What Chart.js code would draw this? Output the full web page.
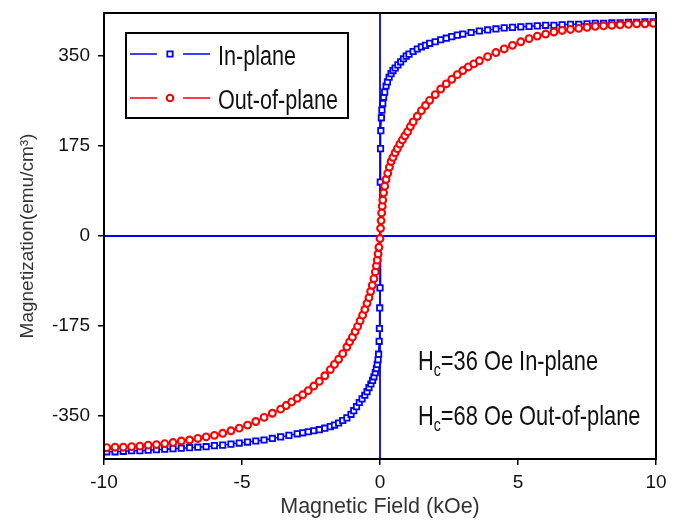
<!DOCTYPE html>
<html><head><meta charset="utf-8">
<script src="https://cdn.jsdelivr.net/npm/chart.js@4.4.0/dist/chart.umd.min.js"></script>
<style>html,body{margin:0;padding:0;background:#fff}#wrap{width:674px;height:524px;position:relative}</style>
</head><body><div id="wrap"><canvas id="c"></canvas></div>
<script>
// ---- data (field in kOe, magnetization in emu/cm^3) ----
const inPlaneField = [-9.9,-9.6,-9.3,-9.0,-8.7,-8.4,-8.1,-7.8,-7.5,-7.2,-6.9,-6.6,-6.3,-6.0,-5.7,-5.4,-5.1,-4.8,-4.5,-4.2,-3.9,-3.6,-3.3,-3.0,-2.8,-2.6,-2.4,-2.2,-2.0,-1.8,-1.65,-1.5,-1.35,-1.2,-1.05,-0.95,-0.85,-0.75,-0.65,-0.55,-0.47,-0.4,-0.33,-0.27,-0.22,-0.17,-0.13,-0.1,-0.07,-0.05,-0.03,-0.02,-0.01,0,
  0.01,0.02,0.03,0.05,0.07,0.1,0.13,0.17,0.22,0.27,0.33,0.4,0.47,0.55,0.65,0.75,0.85,0.95,1.05,1.2,1.35,1.5,1.65,1.8,2.0,2.2,2.4,2.6,2.8,3.0,3.3,3.6,3.9,4.2,4.5,4.8,5.1,5.4,5.7,6.0,6.3,6.6,6.9,7.2,7.5,7.8,8.1,8.4,8.7,9.0,9.3,9.6,9.9];
const inPlaneM = [-420,-420,-419,-418,-418,-417,-416,-415,-414,-413,-412,-411,-410,-408,-407,-405,-403,-401,-399,-397,-394,-391,-388,-385,-383,-381,-379,-377,-374,-371,-368,-364,-359,-354,-347,-340,-332,-324,-317,-310,-303,-295,-288,-281,-274,-266,-258,-250,-241,-230,-205,-180,-140,-101,
  105,170,205,230,245,258,270,280,292,300,309,316,322,327,333,339,345,350,354,359,364,368,371,375,378,382,385,388,391,393,396,399,401,403,405,406,407,408,409,410,410,411,412,412,413,414,414,415,415,416,416,417,417];
const outPlaneField = [-9.9,-9.6,-9.3,-9.0,-8.7,-8.4,-8.1,-7.8,-7.5,-7.2,-6.9,-6.6,-6.3,-6.0,-5.7,-5.4,-5.1,-4.8,-4.5,-4.2,-3.9,-3.6,-3.4,-3.2,-3.0,-2.8,-2.6,-2.4,-2.2,-2.0,-1.8,-1.65,-1.5,-1.35,-1.2,-1.1,-1.0,-0.9,-0.81,-0.72,-0.63,-0.55,-0.47,-0.4,-0.34,-0.28,-0.22,-0.17,-0.13,-0.1,-0.07,-0.04,0,
  0.02,0.04,0.06,0.08,0.1,0.13,0.17,0.22,0.28,0.34,0.4,0.47,0.55,0.63,0.72,0.81,0.9,1.0,1.1,1.2,1.35,1.5,1.65,1.8,2.0,2.2,2.4,2.6,2.8,3.0,3.2,3.4,3.6,3.9,4.2,4.5,4.8,5.1,5.4,5.7,6.0,6.3,6.6,6.9,7.2,7.5,7.8,8.1,8.4,8.7,9.0,9.3,9.6,9.9];
const outPlaneM = [-412,-411,-411,-410,-409,-407,-406,-404,-402,-399,-397,-394,-391,-388,-384,-379,-374,-368,-361,-353,-345,-337,-330,-323,-316,-309,-301,-292,-283,-272,-260,-250,-240,-229,-216,-206,-197,-186,-176,-165,-154,-143,-131,-120,-108,-96,-83,-70,-58,-47,-35,-22,-5,
  15,30,45,58,70,84,97,110,122,134,145,153,162,170,179,187,195,203,213,222,233,244,254,264,275,286,296,305,314,322,329,335,341,349,357,364,371,378,384,389,393,397,400,402,404,406,408,409,410,411,412,413,413,414];
const xTicks = [-10,-5,0,5,10];
const yTicks = [-350,-175,0,175,350];
const seriesNames = ['In-plane','Out-of-plane'];
const noteValues = ['36','68'];
const noteLabels = ['In-plane','Out-of-plane'];
const xTitle = 'Magnetic Field (kOe)';
const yTitle = 'Magnetization(emu/cm\u00B3)';

const BLUE = '#0000ff', RED = '#ff0000';
const FONT = '"Liberation Sans",Arial,sans-serif';

function pts(xs, ys){ return xs.map((x,i)=>({x:x,y:ys[i]})); }

function drawMarker(ctx, style, x, y, color){
  ctx.save();
  ctx.strokeStyle = color; ctx.fillStyle = '#fff';
  ctx.beginPath();
  if (style === 'rect') { ctx.lineWidth = 1.8; ctx.rect(x-2.7, y-2.7, 5.4, 5.4); }
  else { ctx.lineWidth = 2.1; ctx.arc(x, y, 3.3, 0, Math.PI*2); }
  ctx.fill(); ctx.stroke();
  ctx.restore();
}

const overlay = {
  id: 'overlay',
  beforeDatasetsDraw(chart){
    const {ctx, chartArea:a, scales:{x, y}} = chart;
    ctx.save();
    ctx.strokeStyle = BLUE; ctx.lineWidth = 1.8;
    const x0 = x.getPixelForValue(0), y0 = y.getPixelForValue(0);
    ctx.beginPath();
    ctx.moveTo(a.left, y0); ctx.lineTo(a.right, y0);
    ctx.moveTo(x0, a.top); ctx.lineTo(x0, a.bottom);
    ctx.stroke();
    ctx.restore();
  },
  afterDatasetsDraw(chart){
    const {ctx, chartArea:a} = chart;
    ctx.save();
    ctx.strokeStyle = '#000'; ctx.lineWidth = 2;
    ctx.strokeRect(a.left, a.top, a.right - a.left, a.bottom - a.top);
    const lx = a.left + 22, ly = a.top + 20;
    ctx.fillStyle = '#fff';
    ctx.fillRect(lx, ly, 222, 85);
    ctx.strokeRect(lx, ly, 222, 85);
    const rows = [{c:BLUE, s:'rect', y: ly + 21}, {c:RED, s:'circle', y: ly + 65}];
    rows.forEach((r, i) => {
      ctx.strokeStyle = r.c; ctx.lineWidth = 1.5;
      ctx.beginPath();
      ctx.moveTo(lx + 4, r.y); ctx.lineTo(lx + 31, r.y);
      ctx.moveTo(lx + 57, r.y); ctx.lineTo(lx + 84, r.y);
      ctx.stroke();
      drawMarker(ctx, r.s, lx + 44, r.y, r.c);
      ctx.save();
      ctx.translate(lx + 92, r.y + 11);
      ctx.scale(0.8, 1);
      ctx.fillStyle = '#111';
      ctx.font = '27px ' + FONT;
      ctx.textBaseline = 'alphabetic'; ctx.textAlign = 'left';
      ctx.fillText(seriesNames[i], 0, 0);
      ctx.restore();
    });
    const nx = a.left + 314;
    [a.top + 357, a.top + 412].forEach((by, i) => {
      ctx.save();
      ctx.translate(nx, by);
      ctx.scale(0.78, 1);
      ctx.fillStyle = '#111';
      ctx.textBaseline = 'alphabetic'; ctx.textAlign = 'left';
      ctx.font = '28px ' + FONT;
      ctx.fillText('H', 0, 0);
      let w = ctx.measureText('H').width;
      ctx.font = '18px ' + FONT;
      ctx.fillText('c', w, 6);
      w += ctx.measureText('c').width;
      ctx.font = '28px ' + FONT;
      ctx.fillText('=' + noteValues[i] + ' Oe ' + noteLabels[i], w, 0);
      ctx.restore();
    });
    ctx.restore();
  }
};

const axisGrid = {display:true, drawOnChartArea:false, drawTicks:true, tickLength:6, color:'#000', lineWidth:1.5};

new Chart(document.getElementById('c'), {
  type: 'scatter',
  data: {
    datasets: [
      {label: seriesNames[0], data: pts(inPlaneField, inPlaneM), showLine: true, borderColor: BLUE, borderWidth: 1.5,
       pointStyle: 'rect', pointRadius: 3.8, pointBorderWidth: 1.8, pointBackgroundColor: '#fff', pointBorderColor: BLUE, order: 2},
      {label: seriesNames[1], data: pts(outPlaneField, outPlaneM), showLine: true, borderColor: RED, borderWidth: 1.5,
       pointStyle: 'circle', pointRadius: 3.4, pointBorderWidth: 2.1, pointBackgroundColor: '#fff', pointBorderColor: RED, order: 1}
    ]
  },
  options: {
    responsive: true, maintainAspectRatio: false, animation: false,
    layout: {padding: {top: 13, right: 18, left: 0, bottom: 0}},
    plugins: {legend: {display: false}, tooltip: {enabled: false}},
    scales: {
      x: {type: 'linear', min: -10, max: 10,
        afterBuildTicks: s => { s.ticks = xTicks.map(v => ({value: v})); },
        afterFit: s => { s.height = 65; s.paddingLeft = 0; s.paddingRight = 0; },
        ticks: {font: {family: FONT, size: 19}, color: '#111', padding: 6, maxRotation: 0},
        grid: axisGrid, border: {display: false},
        title: {display: true, text: xTitle, font: {family: FONT, size: 21.5}, color: '#333', padding: {top: 0, bottom: 4}}
      },
      y: {type: 'linear', min: -434, max: 434,
        afterBuildTicks: s => { s.ticks = yTicks.map(v => ({value: v})); },
        afterFit: s => { s.width = 104; s.paddingTop = 0; s.paddingBottom = 0; },
        ticks: {font: {family: FONT, size: 19}, color: '#111', padding: 8},
        grid: axisGrid, border: {display: false},
        title: {display: true, text: yTitle, font: {family: FONT, size: 19}, color: '#333', padding: {top: 16, bottom: 0}}
      }
    }
  },
  plugins: [overlay]
});
</script></body></html>
